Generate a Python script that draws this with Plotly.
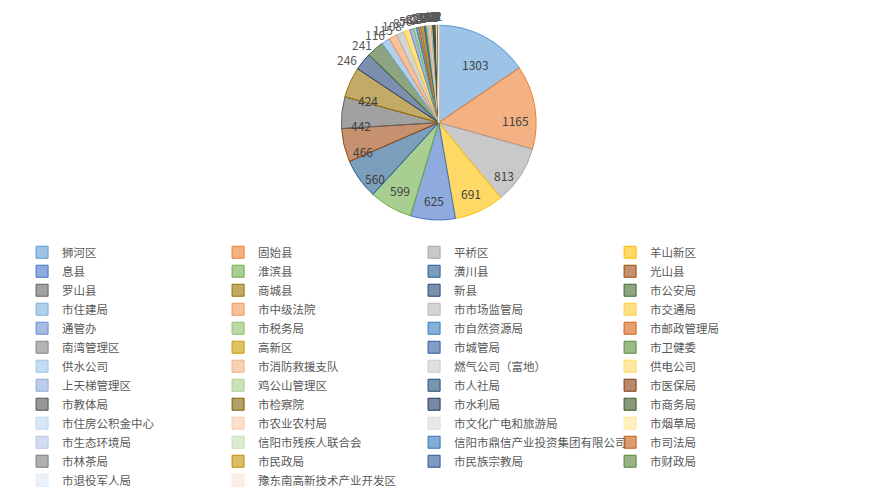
import math
import plotly.graph_objects as go

# 各单位数量（从图上读取，小值为估计）
labels = [
    "狮河区", "固始县", "平桥区", "羊山新区",
    "息县", "淮滨县", "潢川县", "光山县",
    "罗山县", "商城县", "新县", "市公安局",
    "市住建局", "市中级法院", "市市场监管局", "市交通局",
    "通管办", "市税务局", "市自然资源局", "市邮政管理局",
    "南湾管理区", "高新区", "市城管局", "市卫健委",
    "供水公司", "市消防救援支队", "燃气公司（富地）", "供电公司",
    "上天梯管理区", "鸡公山管理区", "市人社局", "市医保局",
    "市教体局", "市检察院", "市水利局", "市商务局",
    "市住房公积金中心", "市农业农村局", "市文化广电和旅游局", "市烟草局",
    "市生态环境局", "信阳市残疾人联合会", "信阳市鼎信产业投资集团有限公司", "市司法局",
    "市林茶局", "市民政局", "市民族宗教局", "市财政局",
    "市退役军人局", "豫东南高新技术产业开发区",
]
values = [
    1303, 1165, 813, 691,
    625, 599, 560, 466,
    442, 424, 246, 241,
    116, 115, 108, 87,
    56, 40, 32, 28,
    25, 22, 20, 18,
    16, 15, 14, 13,
    12, 11, 10, 9,
    8, 7, 6, 6,
    5, 5, 4, 4,
    3, 3, 3, 2,
    2, 2, 1, 1,
    1, 1,
]

# Excel (Office) 配色循环
palette = [
    "#5B9BD5", "#ED7D31", "#A5A5A5", "#FFC000", "#4472C4", "#70AD47",
    "#255E91", "#9E480E", "#636363", "#997300", "#264478", "#43682B",
    "#7CAFDD", "#F1975A", "#B7B7B7", "#FFCD33", "#698ED0", "#8CC168",
    "#327DC2", "#D26012", "#848484", "#CC9A00", "#335AA1", "#5A8A39",
    "#9DC3E6", "#F4B183", "#C9C9C9", "#FFD966", "#8FAADC", "#A9D18E",
    "#1F4E79", "#843C0C", "#525252", "#7F6000", "#203864", "#385723",
    "#BDD7EE", "#F8CBAD", "#DBDBDB", "#FFE699", "#B4C7E7", "#C5E0B4",
    "#2E75B6", "#C55A11", "#7B7B7B", "#BF9000", "#2F5597", "#538135",
    "#DEEBF7", "#FBE5D6",
]

W, H = 880, 493
dom_x = [0.378, 0.601]
dom_y = [0.57, 0.965]
inside_min = 300  # 小于此值的标签放在饼图外侧


def fade(hexcol, a=0.6):
    r, g, b = (int(hexcol[i:i + 2], 16) for i in (1, 3, 5))
    return f"rgba({r},{g},{b},{a})"


fills = [fade(c) for c in palette]

fig = go.Figure(go.Pie(
    labels=labels,
    values=values,
    sort=False,
    direction="clockwise",
    rotation=0,
    textinfo="none",
    marker=dict(colors=fills, line=dict(color=palette, width=1)),
    domain=dict(x=dom_x, y=dom_y),
    hoverinfo="label+value+percent",
))

# 数据标签：沿每个扇区的中线放置（大扇区在内，小扇区在外）
total = sum(values)
cx = sum(dom_x) / 2
cy = sum(dom_y) / 2
radius = min((dom_x[1] - dom_x[0]) * W, (dom_y[1] - dom_y[0]) * H) / 2
cum = 0
for v in values:
    mid = (cum + v / 2) / total * 2 * math.pi
    cum += v
    if v >= inside_min:
        rr = radius * 0.8
        col = "#404040"
    else:
        rr = radius + 20
        col = "#595959"
    fig.add_annotation(
        x=cx + rr * math.sin(mid) / W,
        y=cy + rr * math.cos(mid) / H,
        xref="paper", yref="paper",
        text=str(v), showarrow=False,
        font=dict(size=12, color=col),
    )

fig.update_layout(
    width=W,
    height=H,
    margin=dict(l=0, r=0, t=0, b=0, autoexpand=False),
    paper_bgcolor="white",
    font=dict(family="Noto Sans CJK SC", color="#595959"),
    showlegend=True,
    legend=dict(
        orientation="h",
        x=0.016, xanchor="left",
        y=0.534, yanchor="top",
        entrywidth=151,
        entrywidthmode="pixels",
        maxheight=260,
        font=dict(size=11.5, color="#595959"),
        traceorder="normal",
        itemclick=False,
    ),
)

fig.write_html("out.html")
